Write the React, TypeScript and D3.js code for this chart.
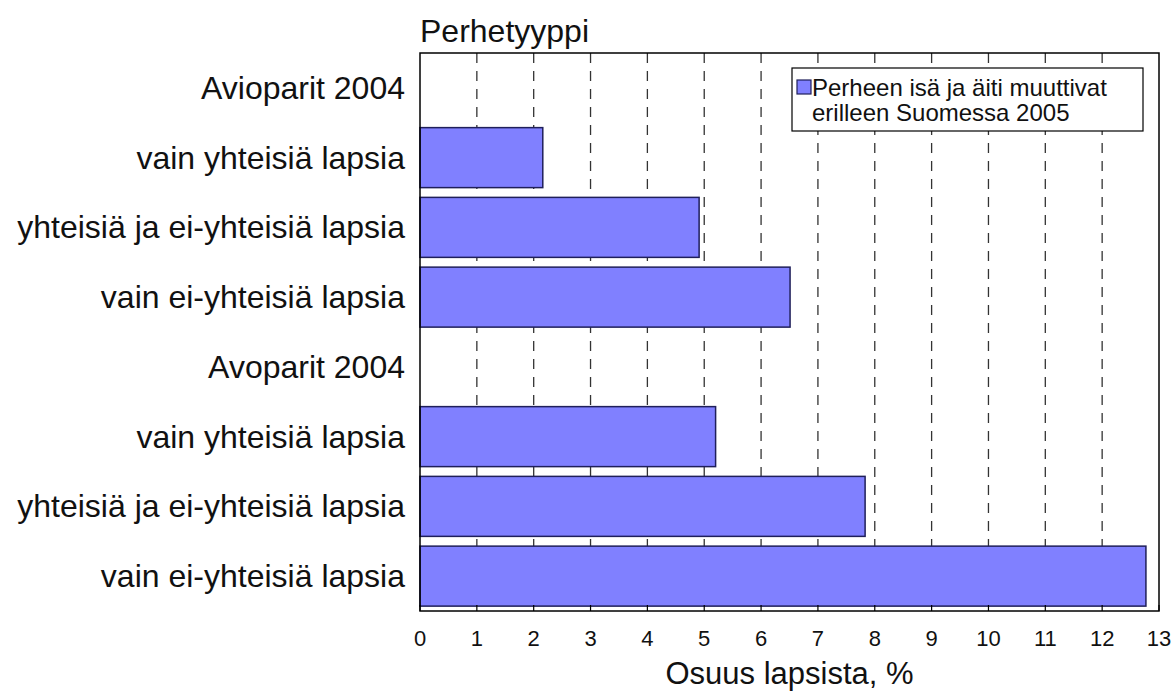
import React from "react";
import * as d3 from "d3";

const categories = [
  "Avioparit 2004",
  "vain yhteisiä lapsia",
  "yhteisiä ja ei-yhteisiä lapsia",
  "vain ei-yhteisiä lapsia",
  "Avoparit 2004",
  "vain yhteisiä lapsia ",
  "yhteisiä ja ei-yhteisiä lapsia ",
  "vain ei-yhteisiä lapsia ",
];
const values: (number | null)[] = [null, 2.16, 4.91, 6.51, null, 5.2, 7.83, 12.77];
const xTicks = [0, 1, 2, 3, 4, 5, 6, 7, 8, 9, 10, 11, 12, 13];
const legendLines = ["Perheen isä ja äiti muuttivat", "erilleen Suomessa 2005"];
const yTitle = "Perhetyyppi";
const xTitle = "Osuus lapsista, %";

const W = 1174;
const H = 697;
const left = 420;
const right = 1159;
const top = 53;
const bottom = 611;
const font = "'Liberation Sans', Arial, sans-serif";

export default function App() {
  const x = d3.scaleLinear().domain([0, 13]).range([left, right]);
  const y = d3.scaleBand<string>().domain(categories).range([top, bottom]).paddingInner(0.14).paddingOuter(0.07);
  const band = d3.scaleBand<string>().domain(categories).range([top, bottom]);

  return (
    <svg width={W} height={H} style={{ position: "absolute", left: 0, top: 0, background: "#fff" }}>
      <rect x={0} y={0} width={W} height={H} fill="#fff" />
      {xTicks.slice(1, -1).map((t) => (
        <line key={"g" + t} x1={x(t)} x2={x(t)} y1={top} y2={bottom} stroke="#333" strokeWidth={1.3} strokeDasharray="10,8" />
      ))}
      {categories.map((c, i) => {
        const v = values[i];
        if (v == null) return null;
        return (
          <rect key={"b" + i} x={x(0)} y={y(c)!} width={x(v) - x(0)} height={y.bandwidth()} fill="#8080FF" stroke="#1f1f5a" strokeWidth={1.5} />
        );
      })}
      <rect x={left} y={top} width={right - left} height={bottom - top} fill="none" stroke="#000" strokeWidth={1.5} />
      {xTicks.map((t) => (
        <g key={"t" + t}>
          <line x1={x(t)} x2={x(t)} y1={bottom} y2={bottom - 6} stroke="#000" strokeWidth={1.2} />
          <text x={x(t)} y={646} textAnchor="middle" fontFamily={font} fontSize={22} fill="#111">{t}</text>
        </g>
      ))}
      {categories.map((c) => (
        <text key={"l" + c} x={405} y={band(c)! + band.bandwidth() / 2 + 11} textAnchor="end" fontFamily={font} fontSize={32} fill="#111">
          {c.trim()}
        </text>
      ))}
      <text x={420} y={42} fontFamily={font} fontSize={32} fill="#111">{yTitle}</text>
      <text x={(left + right) / 2} y={684} textAnchor="middle" fontFamily={font} fontSize={31} fill="#111">{xTitle}</text>
      <g>
        <rect x={792} y={68} width={351} height={63} fill="#fff" stroke="#000" strokeWidth={1.2} />
        <rect x={797} y={80} width={14} height={14} fill="#8080FF" stroke="#1f1f5a" strokeWidth={1.2} />
        <text fontFamily={font} fontSize={24} fill="#111">
          {legendLines.map((l, i) => (
            <tspan key={"lg" + i} x={812} y={96 + i * 25}>{l}</tspan>
          ))}
        </text>
      </g>
    </svg>
  );
}
